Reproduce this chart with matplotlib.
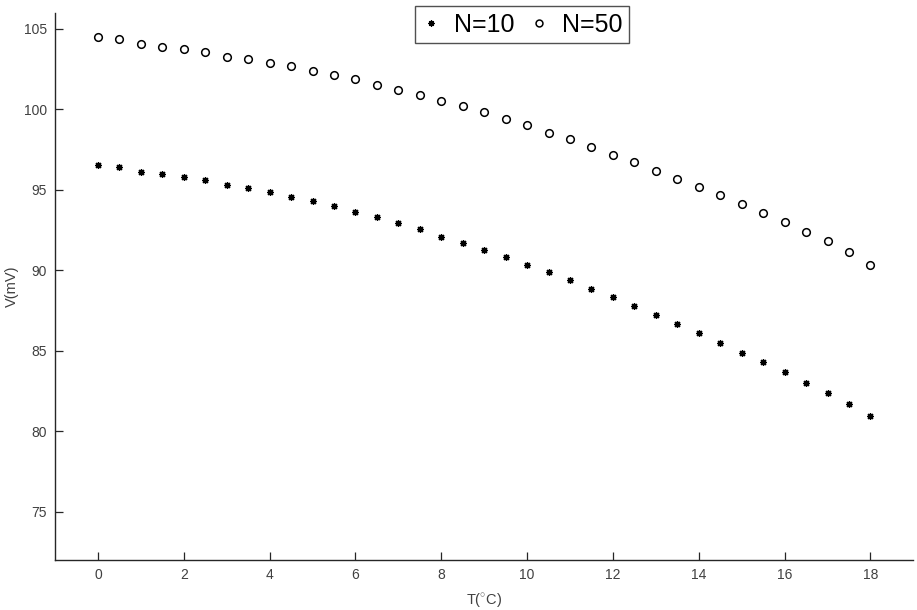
import matplotlib
matplotlib.use("Agg")
import matplotlib.pyplot as plt

plt.rcParams['font.family'] = ['Liberation Sans', 'DejaVu Sans']
plt.rcParams['mathtext.fontset'] = 'custom'
plt.rcParams['mathtext.rm'] = 'Liberation Sans'

# temperature in degrees C
temp = [0, 0.5, 1, 1.5, 2, 2.5, 3, 3.5, 4, 4.5, 5, 5.5, 6, 6.5, 7, 7.5, 8, 8.5, 9,
        9.5, 10, 10.5, 11, 11.5, 12, 12.5, 13, 13.5, 14, 14.5, 15, 15.5, 16, 16.5,
        17, 17.5, 18]

# voltage (mV) for N=10
v_n10 = [96.55, 96.42, 96.11, 96.01, 95.82, 95.61, 95.32, 95.11, 94.86, 94.55,
         94.28, 93.99, 93.62, 93.29, 92.91, 92.54, 92.10, 91.72, 91.28, 90.81,
         90.36, 89.88, 89.38, 88.86, 88.32, 87.79, 87.24, 86.66, 86.10, 85.50,
         84.89, 84.30, 83.65, 83.01, 82.36, 81.68, 80.93]

# voltage (mV) for N=50
v_n50 = [104.48, 104.36, 104.05, 103.90, 103.75, 103.59, 103.27, 103.11, 102.90,
         102.71, 102.38, 102.15, 101.87, 101.53, 101.22, 100.91, 100.53, 100.18,
         99.81, 99.39, 99.00, 98.54, 98.13, 97.65, 97.19, 96.71, 96.20, 95.65,
         95.17, 94.66, 94.14, 93.58, 93.02, 92.41, 91.79, 91.11, 90.36]

xticks = [0, 2, 4, 6, 8, 10, 12, 14, 16, 18]
yticks = [75, 80, 85, 90, 95, 100, 105]

axis_color = '#262626'
text_color = '#404040'

fig = plt.figure(figsize=(9.17, 6.10), dpi=100)
ax = fig.add_axes([0.060, 0.082, 0.936, 0.897])

ax.plot(temp, v_n10, linestyle='none', marker=(8, 2, 0), markersize=5,
        markeredgewidth=0.9, color='black', label='N=10')
ax.plot(temp, v_n50, linestyle='none', marker='o', markersize=5.5,
        markeredgewidth=1.1, markerfacecolor='none', markeredgecolor='black',
        label='N=50')

ax.set_xlim(-1, 19)
ax.set_ylim(72, 106)
ax.set_xticks(xticks)
ax.set_yticks(yticks)

for side in ['top', 'right']:
    ax.spines[side].set_visible(False)
for side in ['left', 'bottom']:
    ax.spines[side].set_color(axis_color)
    ax.spines[side].set_linewidth(1.0)

ax.tick_params(direction='in', length=6, width=0.9, color=axis_color,
               labelcolor=text_color, labelsize=10, pad=6)

ax.set_xlabel(r'T($^{\circ}$C)', fontsize=10.5, color=text_color, labelpad=7)
ax.set_ylabel('V(mV)', fontsize=10.5, color=text_color, labelpad=3)

leg = fig.legend(loc='upper left', bbox_to_anchor=(0.4526, 0.9897), ncol=2,
                 fontsize=18, frameon=True, fancybox=False, borderaxespad=0,
                 handlelength=0.8, handletextpad=0.5, columnspacing=0.6,
                 borderpad=0.25, markerscale=0.9)
leg.get_frame().set_edgecolor(axis_color)
leg.get_frame().set_linewidth(1.0)

fig.savefig('out.png', dpi=100)
